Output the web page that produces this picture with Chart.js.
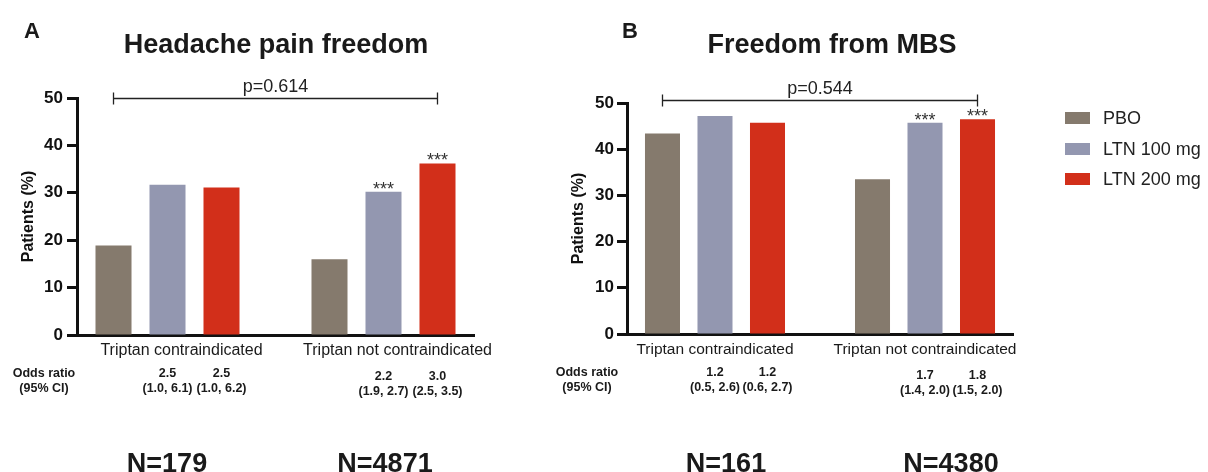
<!DOCTYPE html>
<html>
<head>
<meta charset="utf-8">
<script src="https://cdn.jsdelivr.net/npm/chart.js@4.4.1/dist/chart.umd.min.js"></script>
<style>
  html, body { margin: 0; padding: 0; background: #fff; }
  body { width: 1208px; height: 472px; position: relative; overflow: hidden; font-family: "Liberation Sans", Arial, Helvetica, sans-serif; color: #1a1a1a; }
  canvas { position: absolute; top: 0; }
  .t { position: absolute; line-height: 1; white-space: nowrap; }
  .legend-item { position: absolute; left: 1065px; height: 20px; }
  .legend-box { position: absolute; left: 0; width: 25px; height: 12px; }
  .legend-text { position: absolute; left: 38px; font-size: 18px; line-height: 1; white-space: nowrap; color: #222; }
</style>
</head>
<body>
<canvas id="chartA" width="540" height="472" style="left:0px"></canvas>
<canvas id="chartB" width="540" height="472" style="left:540px"></canvas>

<div class="t" style="left:24px; top:20px; font-size:22px; font-weight:bold;">A</div>
<div class="t" style="left:622px; top:20px; font-size:22px; font-weight:bold;">B</div>
<div class="t" style="left:76px; width:400px; text-align:center; top:31px; font-size:27px; font-weight:bold;">Headache pain freedom</div>
<div class="t" style="left:632px; width:400px; text-align:center; top:31px; font-size:27px; font-weight:bold;">Freedom from MBS</div>
<div id="nlabels"></div>
<div id="legend"></div>

<script>
// ---------- DATA ----------
const categories = ['Triptan contraindicated', 'Triptan not contraindicated'];
const seriesNames = ['PBO', 'LTN 100 mg', 'LTN 200 mg'];
const seriesColors = ['#857a6d', '#9397b0', '#d22f1a'];
const yTicks = [0, 10, 20, 30, 40, 50];

// Panel A: Headache pain freedom (% patients)
const painPBO = [18.9, 16.0];
const painLTN100 = [31.7, 30.2];
const painLTN200 = [31.1, 36.2];
const painPValue = 'p=0.614';
const painStars = [['', ''], ['', '***'], ['', '***']];
const painOR = [['', ''], ['2.5', '2.2'], ['2.5', '3.0']];
const painCI = [['', ''], ['(1.0, 6.1)', '(1.9, 2.7)'], ['(1.0, 6.2)', '(2.5, 3.5)']];
const painN = ['N=179', 'N=4871'];

// Panel B: Freedom from MBS (% patients)
const mbsPBO = [43.4, 33.5];
const mbsLTN100 = [47.2, 45.7];
const mbsLTN200 = [45.7, 46.5];
const mbsPValue = 'p=0.544';
const mbsStars = [['', ''], ['', '***'], ['', '***']];
const mbsOR = [['', ''], ['1.2', '1.7'], ['1.2', '1.8']];
const mbsCI = [['', ''], ['(0.5, 2.6)', '(1.4, 2.0)'], ['(0.6, 2.7)', '(1.5, 2.0)']];
const mbsN = ['N=161', 'N=4380'];

// ---------- CHART SETUP ----------
const FONT = "'Liberation Sans', Arial, Helvetica, sans-serif";
Chart.defaults.font.family = FONT;
Chart.defaults.color = '#1a1a1a';

const annotPlugin = {
  id: 'annot',
  afterDatasetsDraw(chart, args, opts) {
    const ctx = chart.ctx;
    const ca = chart.chartArea;
    const ys = chart.scales.y;
    ctx.save();
    // significance bracket between the first and last bar
    const first = chart.getDatasetMeta(0).data[0];
    const lastMeta = chart.getDatasetMeta(chart.data.datasets.length - 1);
    const last = lastMeta.data[lastMeta.data.length - 1];
    const by = Math.round(ys.getPixelForValue(opts.bracketValue)) + 0.5;
    ctx.strokeStyle = '#222';
    ctx.lineWidth = 1.3;
    ctx.beginPath();
    ctx.moveTo(first.x, by); ctx.lineTo(last.x, by);
    ctx.moveTo(first.x, by - 6); ctx.lineTo(first.x, by + 6);
    ctx.moveTo(last.x, by - 6); ctx.lineTo(last.x, by + 6);
    ctx.stroke();
    ctx.fillStyle = '#222';
    ctx.textAlign = 'center';
    ctx.textBaseline = 'alphabetic';
    ctx.font = '18px ' + FONT;
    ctx.fillText(opts.pText, (first.x + last.x) / 2, by - 7);

    // odds ratio row header
    ctx.fillStyle = '#1a1a1a';
    ctx.font = 'bold 12.5px ' + FONT;
    ctx.fillText('Odds ratio', ca.left - opts.orLabelOffset, ca.bottom + 42);
    ctx.fillText('(95% CI)', ca.left - opts.orLabelOffset, ca.bottom + 57);

    chart.data.datasets.forEach((ds, i) => {
      const meta = chart.getDatasetMeta(i);
      meta.data.forEach((bar, j) => {
        const star = opts.stars[i][j];
        if (star) {
          ctx.fillStyle = '#333';
          ctx.font = '18px ' + FONT;
          ctx.fillText(star, bar.x, bar.y + 3);
        }
        const or = opts.or[i][j];
        if (or) {
          const dy = j === 1 ? 3 : 0;
          ctx.fillStyle = '#1a1a1a';
          ctx.font = 'bold 12.5px ' + FONT;
          ctx.fillText(or, bar.x, ca.bottom + 42 + dy);
          ctx.fillText(opts.ci[i][j], bar.x, ca.bottom + 57 + dy);
        }
      });
    });
    ctx.restore();
  }
};

function makeChart(id, values, cfg) {
  const datasets = values.map((arr, i) => ({
    label: seriesNames[i],
    data: arr.map((v, k) => ({ x: k, y: v })),
    backgroundColor: seriesColors[i],
    borderWidth: 0,
    categoryPercentage: 0.75,
    barPercentage: 0.667
  }));
  return new Chart(document.getElementById(id), {
    type: 'bar',
    data: { datasets },
    plugins: [annotPlugin],
    options: {
      responsive: false,
      animation: false,
      devicePixelRatio: 1,
      layout: { padding: { top: cfg.top, left: 0, right: cfg.right, bottom: 0 } },
      plugins: {
        legend: { display: false },
        tooltip: { enabled: false },
        annot: cfg.annot
      },
      scales: {
        x: {
          type: 'linear',
          min: -0.419,
          max: 1.419,
          offset: false,
          bounds: 'data',
          afterBuildTicks: (s) => { s.ticks = categories.map((c, k) => ({ value: k })); },
          afterFit: (s) => { s.height = cfg.xHeight; },
          ticks: {
            callback: (v) => categories[v],
            font: { size: cfg.xFont },
            color: '#1a1a1a',
            padding: 6,
            labelOffset: cfg.labelOffset,
            maxRotation: 0,
            autoSkip: false
          },
          grid: { display: false, drawTicks: false, offset: false },
          border: { display: true, width: 3, color: '#111' }
        },
        y: {
          min: 0,
          max: 50,
          afterBuildTicks: (s) => { s.ticks = yTicks.map(v => ({ value: v })); },
          afterFit: (s) => { s.width = cfg.yWidth; },
          ticks: {
            font: { size: 17, weight: 'bold' },
            color: '#111',
            padding: cfg.tickPad
          },
          grid: { display: true, drawOnChartArea: false, drawTicks: true, tickLength: 10, tickWidth: 3, tickColor: '#111' },
          border: { display: true, width: 3, color: '#111' },
          title: {
            display: true,
            text: 'Patients (%)',
            font: { size: 16, weight: 'bold' },
            color: '#111',
            padding: { top: cfg.titlePad, bottom: 0 }
          }
        }
      }
    }
  });
}

const chartA = makeChart('chartA', [painPBO, painLTN100, painLTN200], {
  top: 98, right: 66, xHeight: 137, yWidth: 77, tickPad: 4, titlePad: 19, xFont: 16, labelOffset: 14,
  annot: { bracketValue: 50, pText: painPValue, stars: painStars, or: painOR, ci: painCI, orLabelOffset: 33 }
});
const chartB = makeChart('chartB', [mbsPBO, mbsLTN100, mbsLTN200], {
  top: 103, right: 67, xHeight: 138, yWidth: 87, tickPad: 3, titlePad: 29, xFont: 15.5, labelOffset: 0,
  annot: { bracketValue: 50.6, pText: mbsPValue, stars: mbsStars, or: mbsOR, ci: mbsCI, orLabelOffset: 40 }
});

// N labels under each group
const nl = document.getElementById('nlabels');
function addN(text, cx) {
  const d = document.createElement('div');
  d.className = 't';
  d.style.cssText = `left:${cx - 100}px; width:200px; text-align:center; top:450px; font-size:27px; font-weight:bold;`;
  d.textContent = text;
  nl.appendChild(d);
}
const nCentersA = [167, 385];
const nCentersB = [726, 951];
painN.forEach((t, k) => addN(t, nCentersA[k]));
mbsN.forEach((t, k) => addN(t, nCentersB[k]));

// Legend
const lg = document.getElementById('legend');
const legendY = [118, 149, 179];
seriesNames.forEach((name, i) => {
  const item = document.createElement('div');
  item.className = 'legend-item';
  item.style.top = (legendY[i] - 10) + 'px';
  item.innerHTML = `<div class="legend-box" style="top:4px;background:${seriesColors[i]}"></div><div class="legend-text" style="top:1px">${name}</div>`;
  lg.appendChild(item);
});
</script>
</body>
</html>
